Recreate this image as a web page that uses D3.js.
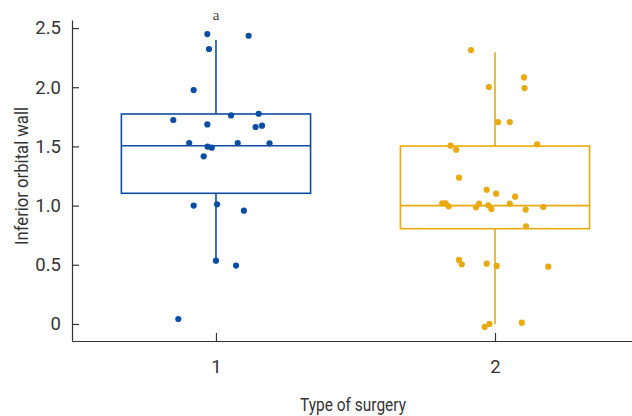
<!DOCTYPE html>
<html>
<head>
<meta charset="utf-8">
<script src="https://cdn.jsdelivr.net/npm/d3@7"></script>
<style>
  html, body { margin: 0; padding: 0; background: #fff; }
  svg text { font-family: "Liberation Sans Narrow", "Roboto", "Liberation Sans", sans-serif; fill: #333; }
</style>
</head>
<body>
<svg id="chart" width="632" height="416"></svg>
<script>
// Surgery groups and their colours
const groups = [1, 2];
const groupColors = ["#0c4ea5", "#e9a90f"];

// Box statistics per group: lower whisker, Q1, median, Q3, upper whisker
const whiskerLow = [0.535, 0.0];
const q1 = [1.104, 0.805];
const median = [1.506, 1.0];
const q3 = [1.774, 1.503];
const whiskerHigh = [2.40, 2.295];

// Observations for group 1 (jittered x position, value)
const g1X = [0.969, 1.117, 0.975, 0.920, 0.847, 1.054, 1.153, 0.969, 1.142, 1.165, 0.904,
             1.078, 1.192, 0.970, 0.985, 0.956, 0.920, 1.004, 1.100, 1.000, 1.072, 0.865];
const g1Y = [2.449, 2.435, 2.323, 1.976, 1.723, 1.762, 1.776, 1.686, 1.664, 1.675, 1.529,
             1.529, 1.526, 1.498, 1.489, 1.416, 1.000, 1.011, 0.957, 0.535, 0.493, 0.042];

// Observations for group 2 (jittered x position, value)
const g2X = [1.914, 1.978, 2.104, 2.106, 2.011, 2.053, 1.841, 1.861, 2.151, 1.871, 1.970,
             2.004, 2.072, 1.811, 1.823, 1.834, 1.943, 1.932, 1.976, 1.987, 2.053, 2.110,
             2.173, 2.111, 1.871, 1.881, 1.970, 2.006, 2.191, 1.963, 1.980, 2.096];
const g2Y = [2.314, 2.002, 2.083, 1.993, 1.706, 1.706, 1.506, 1.472, 1.518, 1.236, 1.134,
             1.101, 1.075, 1.019, 1.019, 0.994, 1.016, 0.986, 1.002, 0.971, 1.016, 0.966,
             0.988, 0.825, 0.541, 0.504, 0.509, 0.490, 0.484, -0.025, 0.000, 0.011];

const yTicks = [0, 0.5, 1.0, 1.5, 2.0, 2.5];
const yTickLabels = ["0", "0.5", "1.0", "1.5", "2.0", "2.5"];
const xTickLabels = ["1", "2"];
const boxWidth = 0.678;
const annotation = "a";

const svg = d3.select("#chart");
const plotLeft = 72, plotRight = 632, plotTop = 20, plotBottom = 341;

const x = d3.scaleLinear().domain([0.484, 2.491]).range([plotLeft, plotRight]);
const y = d3.scaleLinear().domain([-0.144, 2.568]).range([plotBottom, plotTop]);

// Axes with inward ticks
const yAxis = d3.axisLeft(y).tickValues(yTicks)
  .tickFormat((d, i) => yTickLabels[i]).tickSizeInner(-7).tickSizeOuter(0).tickPadding(11);
const gy = svg.append("g").attr("transform", `translate(${plotLeft},0)`).call(yAxis);
gy.select(".domain").attr("stroke", "#333").attr("stroke-width", 1.2);
gy.selectAll(".tick line").attr("stroke", "#333").attr("stroke-width", 1.2);
gy.selectAll(".tick text").attr("font-size", 18.5).attr("fill", "#333");

const xAxis = d3.axisBottom(x).tickValues(groups)
  .tickFormat((d, i) => xTickLabels[i]).tickSizeInner(-8).tickSizeOuter(0).tickPadding(19);
const gx = svg.append("g").attr("transform", `translate(0,${plotBottom})`).call(xAxis);
gx.select(".domain").attr("stroke", "#333").attr("stroke-width", 1.2);
gx.selectAll(".tick line").attr("stroke", "#333").attr("stroke-width", 1.2);
gx.selectAll(".tick text").attr("font-size", 18.5).attr("fill", "#333");

// Axis titles, set in a condensed width
svg.append("text")
  .attr("transform", "translate(28,176) rotate(-90)")
  .attr("text-anchor", "middle").attr("font-size", 18.5)
  .attr("textLength", 138).attr("lengthAdjust", "spacingAndGlyphs")
  .text("Inferior orbital wall");
svg.append("text")
  .attr("x", 353).attr("y", 411)
  .attr("text-anchor", "middle").attr("font-size", 18.5)
  .attr("textLength", 106).attr("lengthAdjust", "spacingAndGlyphs")
  .text("Type of surgery");

// Boxes with whiskers
groups.forEach((g, i) => {
  const c = groupColors[i];
  const bg = svg.append("g").attr("stroke", c).attr("stroke-width", 1.6).attr("fill", "none");
  bg.append("line").attr("x1", x(g)).attr("x2", x(g))
    .attr("y1", y(whiskerHigh[i])).attr("y2", y(q3[i]));
  bg.append("line").attr("x1", x(g)).attr("x2", x(g))
    .attr("y1", y(q1[i])).attr("y2", y(whiskerLow[i]));
  bg.append("rect")
    .attr("x", x(g - boxWidth / 2)).attr("width", x(g + boxWidth / 2) - x(g - boxWidth / 2))
    .attr("y", y(q3[i])).attr("height", y(q1[i]) - y(q3[i]));
  bg.append("line")
    .attr("x1", x(g - boxWidth / 2)).attr("x2", x(g + boxWidth / 2))
    .attr("y1", y(median[i])).attr("y2", y(median[i]));
});

// Jittered observations
const series = [[g1X, g1Y], [g2X, g2Y]];
series.forEach(([xs, ys], i) => {
  svg.append("g").selectAll("circle")
    .data(ys.map((v, k) => [xs[k], v]))
    .join("circle")
    .attr("cx", d => x(d[0])).attr("cy", d => y(d[1]))
    .attr("r", 3.1).attr("fill", groupColors[i]);
});

// Significance marker above group 1
svg.append("text")
  .attr("x", x(groups[0])).attr("y", 20)
  .attr("text-anchor", "middle")
  .style("font-family", "'Liberation Serif', 'DejaVu Serif', serif")
  .style("fill", "#444")
  .attr("font-size", 15)
  .text(annotation);
</script>
</body>
</html>
